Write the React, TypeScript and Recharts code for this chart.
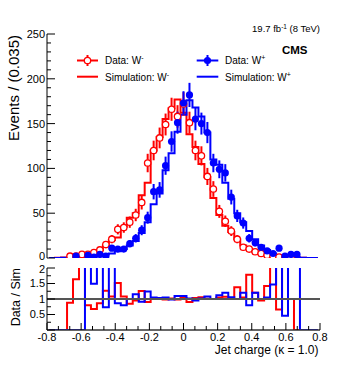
import React from "react";
import {
  ComposedChart,
  ErrorBar,
  Line,
  ReferenceLine,
  Scatter,
  XAxis,
  YAxis,
} from "recharts";

const FONT = "'Liberation Sans', Arial, Helvetica, sans-serif";

// 45 bins of width 0.035, centred on 0 (bin j = -22 .. 22)
const BIN_LO = -0.7875;
const BIN_W = 0.035;

const dataWm = [
  0, 0, 0, 2, 2, 4, 4, 6, 9, 15, 21, 32, 34, 40, 48, 62, 106, 120, 134, 149, 166, 158,
  172, 151, 120, 114, 91, 77, 52, 41, 30, 21, 12, 10, 7, 5, 3, 2, 1, 1, 1, 0, 0, 0, 0,
];
const simWm = [
  0, 0.2, 0.6, 1.5, 2, 2.5, 3.5, 5, 9, 14, 20, 23, 35, 45, 50, 70, 84, 120, 135, 155, 167,
  177, 162, 138, 124, 105, 90, 67, 48, 36, 29, 21, 14, 10, 7, 5, 3.5, 2.2, 1.3, 0.8, 0.6,
  0.4, 0.2, 0, 0,
];
const dataWp = [
  0, 0, 0, 0, 2, 0, 3, 1, 4, 2, 11, 10, 10, 16, 22, 31, 45, 74, 76, 103, 130, 151, 173,
  182, 155, 150, 140, 106, 99, 95, 68, 47, 39, 22, 17, 12, 8, 5, 11, 2, 4, 4, 0, 0, 0,
];
const simWp = [
  0, 0, 0.2, 0.3, 0.5, 0.8, 1.2, 1.8, 2.5, 4, 5, 7.5, 10, 14, 19, 28, 40, 60, 72, 98, 117,
  141, 160, 176, 168, 158, 140, 110, 104, 84, 66, 50, 40, 30, 21, 14, 9, 5, 3, 2, 1.2, 0.8,
  0.4, 0, 0,
];
const ratioWm = [
  0, 0, 0, 0.88, 1.64, 2.5, 0.8, 0.68, 0.86, 1.27, 1.08, 1.52, 1.08, 0.85, 0.95, 1.26, 0.9,
  1.0, 1.02, 0.98, 1.02, 0.98, 1.03, 0.9, 1.03, 1.06, 1.01, 1.0, 1.05, 1.07, 1.02, 1.38,
  1.05, 1.78, 1.2, 0.95, 1.42, 2.5, 0.66, 2.5, 1.0, 0, 0, 0, 0,
];
const ratioWp = [
  0, 0, 0, 0, 0, 0, 2.5, 1.49, 2.5, 0.73, 2.5, 0.86, 0.8, 1.0, 1.15, 0.91, 1.24, 1.05, 1.03,
  1.05, 0.98, 1.1, 1.1, 1.02, 0.95, 1.02, 1.08, 1.0, 1.12, 1.2, 1.06, 1.0, 1.2, 0.8, 1.2,
  1.0, 1.05, 1.47, 2.5, 0.46, 2.5, 2.5, 0, 0, 0,
];

const xMajor = [-0.8, -0.6, -0.4, -0.2, 0, 0.2, 0.4, 0.6, 0.8];
const yMainTicks = [
  0, 10, 20, 30, 40, 50, 60, 70, 80, 90, 100, 110, 120, 130, 140, 150, 160, 170, 180, 190,
  200, 210, 220, 230, 240, 250,
];
const yRatioTicks = [0, 0.25, 0.5, 0.75, 1, 1.25, 1.5, 1.75, 2];

const xTicks = xMajor.flatMap((v, i) =>
  i === 0 ? [v] : [v - (0.2 * 2) / 3, v - 0.2 / 3, v]
);

const RED = "#ff0000";
const BLUE = "#0000ff";

// histogram outline: left edge of each bin, plus closing right edge
const steps = (vals: number[]) => {
  const pts = vals.map((y, k) => ({ x: BIN_LO + BIN_W * k, y }));
  pts.push({ x: BIN_LO + BIN_W * vals.length, y: vals[vals.length - 1] });
  return pts;
};

const points = (vals: number[]) =>
  vals
    .map((y, k) => ({ x: BIN_LO + BIN_W * (k + 0.5), y, e: Math.sqrt(y) }))
    .filter((p) => p.y > 0);

const near = (v: number, step: number) =>
  Math.abs(v / step - Math.round(v / step)) < 1e-6;

type TickOpts = {
  side: "left" | "right" | "top" | "bottom";
  step: number;
  major: number;
  minor: number;
  label?: (v: number) => string | null;
  labelDy?: (v: number) => number;
  fontSize?: number;
};

const makeTick = (o: TickOpts) => (props: any) => {
  const { x, y, payload } = props;
  const v = payload.value as number;
  const big = near(v, o.step);
  const len = big ? o.major : o.minor;
  let x2 = x;
  let y2 = y;
  if (o.side === "left") x2 = x + len;
  if (o.side === "right") x2 = x - len;
  if (o.side === "top") y2 = y + len;
  if (o.side === "bottom") y2 = y - len;
  const txt = big && o.label ? o.label(v) : null;
  const dy = o.labelDy ? o.labelDy(v) : 3.9;
  return (
    <g>
      <line x1={x} y1={y} x2={x2} y2={y2} stroke="#000" strokeWidth={1} />
      {txt !== null && o.side === "left" && (
        <text x={x - 2} y={y + dy} textAnchor="end" fontSize={o.fontSize} fontFamily={FONT} fill="#000">
          {txt}
        </text>
      )}
      {txt !== null && o.side === "bottom" && (
        <text x={x} y={y + 10.7} textAnchor="middle" fontSize={o.fontSize} fontFamily={FONT} fill="#000">
          {txt}
        </text>
      )}
    </g>
  );
};

const fmtX = (v: number) => (Math.abs(v) < 1e-9 ? "0" : v.toFixed(1));
const fmtR = (v: number) => (v === 0 ? null : String(v));

const axisCommon = {
  interval: 0 as const,
  tickLine: false,
  tickSize: 0,
  tickMargin: 0,
  allowDataOverflow: true,
  type: "number" as const,
};

function MainPanel() {
  return (
    <ComposedChart width={357} height={264} margin={{ top: 34, right: 37, bottom: 6, left: 0 }}>
      <XAxis
        xAxisId="b"
        dataKey="x"
        domain={[-0.8, 0.8]}
        ticks={xTicks}
        height={0}
        axisLine={{ stroke: "#000" }}
        tick={makeTick({ side: "bottom", step: 0.2, major: 7, minor: 3.5 })}
        {...axisCommon}
      />
      <XAxis
        xAxisId="t"
        orientation="top"
        dataKey="x"
        domain={[-0.8, 0.8]}
        ticks={xTicks}
        height={0}
        axisLine={{ stroke: "#000" }}
        tick={makeTick({ side: "top", step: 0.2, major: 7, minor: 3.5 })}
        {...axisCommon}
      />
      <YAxis
        yAxisId="l"
        domain={[0, 250]}
        ticks={yMainTicks}
        width={47}
        axisLine={{ stroke: "#000" }}
        tick={makeTick({
          side: "left",
          step: 50,
          major: 8,
          minor: 4,
          label: (v) => String(v),
          labelDy: (v) => (v === 0 ? 2.2 : 3.9),
          fontSize: 11,
        })}
        {...axisCommon}
      />
      <YAxis
        yAxisId="r"
        orientation="right"
        domain={[0, 250]}
        ticks={yMainTicks}
        width={0}
        axisLine={{ stroke: "#000" }}
        tick={makeTick({ side: "right", step: 50, major: 8, minor: 4 })}
        {...axisCommon}
      />
      <Line
        xAxisId="b"
        yAxisId="l"
        data={steps(simWm)}
        dataKey="y"
        type="stepAfter"
        stroke={RED}
        strokeWidth={2}
        dot={false}
        isAnimationActive={false}
      />
      <Line
        xAxisId="b"
        yAxisId="l"
        data={steps(simWp)}
        dataKey="y"
        type="stepAfter"
        stroke={BLUE}
        strokeWidth={2}
        dot={false}
        isAnimationActive={false}
      />
      <Scatter
        xAxisId="b"
        yAxisId="l"
        data={points(dataWm)}
        dataKey="y"
        isAnimationActive={false}
        shape={(p: any) => (
          <circle cx={p.cx} cy={p.cy} r={3.2} fill="#fff" stroke={RED} strokeWidth={1.3} />
        )}
      >
        <ErrorBar dataKey="e" direction="y" width={0} stroke={RED} strokeWidth={2} isAnimationActive={false} />
      </Scatter>
      <Scatter
        xAxisId="b"
        yAxisId="l"
        data={points(dataWp)}
        dataKey="y"
        isAnimationActive={false}
        shape={(p: any) => <circle cx={p.cx} cy={p.cy} r={3.6} fill={BLUE} />}
      >
        <ErrorBar dataKey="e" direction="y" width={0} stroke={BLUE} strokeWidth={2} isAnimationActive={false} />
      </Scatter>
    </ComposedChart>
  );
}

function RatioPanel() {
  return (
    <ComposedChart width={357} height={114} margin={{ top: 6, right: 37, bottom: 0, left: 0 }}>
      <XAxis
        xAxisId="b"
        dataKey="x"
        domain={[-0.8, 0.8]}
        ticks={xTicks}
        height={46}
        axisLine={{ stroke: "#333", strokeWidth: 1.4 }}
        tick={makeTick({ side: "bottom", step: 0.2, major: 7, minor: 4, label: fmtX, fontSize: 11 })}
        {...axisCommon}
      />
      <XAxis
        xAxisId="t"
        orientation="top"
        dataKey="x"
        domain={[-0.8, 0.8]}
        ticks={xTicks}
        height={0}
        axisLine={{ stroke: "#333", strokeWidth: 1.4 }}
        tick={makeTick({ side: "top", step: 0.2, major: 7, minor: 4 })}
        {...axisCommon}
      />
      <YAxis
        yAxisId="l"
        domain={[0, 2]}
        ticks={yRatioTicks}
        width={47}
        axisLine={{ stroke: "#000" }}
        tick={makeTick({
          side: "left",
          step: 0.5,
          major: 8,
          minor: 4,
          label: fmtR,
          labelDy: (v) => (v === 2 ? 5.4 : 3.9),
          fontSize: 11,
        })}
        {...axisCommon}
      />
      <YAxis
        yAxisId="r"
        orientation="right"
        domain={[0, 2]}
        ticks={yRatioTicks}
        width={0}
        axisLine={{ stroke: "#000" }}
        tick={makeTick({ side: "right", step: 0.5, major: 8, minor: 4 })}
        {...axisCommon}
      />
      <Line
        xAxisId="b"
        yAxisId="l"
        data={steps(ratioWm)}
        dataKey="y"
        type="stepAfter"
        stroke={RED}
        strokeWidth={2}
        dot={false}
        isAnimationActive={false}
      />
      <Line
        xAxisId="b"
        yAxisId="l"
        data={steps(ratioWp)}
        dataKey="y"
        type="stepAfter"
        stroke={BLUE}
        strokeWidth={2}
        dot={false}
        isAnimationActive={false}
      />
      <ReferenceLine xAxisId="b" yAxisId="l" y={1} stroke="#555" strokeWidth={2} />
    </ComposedChart>
  );
}

function Overlay() {
  const t = { fontFamily: FONT, fill: "#000" };
  return (
    <svg
      width={357}
      height={376}
      style={{ position: "absolute", left: 0, top: 0, pointerEvents: "none" }}
    >
      <text {...t} fontSize={9.5} x={320} y={32} textAnchor="end">
        19.7 fb<tspan dy={-3.5} fontSize={6.5}>-1</tspan>
        <tspan dy={3.5}> (8 TeV)</tspan>
      </text>
      <text {...t} fontSize={11.5} fontWeight="bold" x={307.5} y={53.5} textAnchor="end">
        CMS
      </text>

      {/* legend: W- */}
      <line x1={77} x2={98} y1={60.5} y2={60.5} stroke={RED} strokeWidth={2} />
      <line x1={87.5} x2={87.5} y1={55} y2={66} stroke={RED} strokeWidth={2} />
      <circle cx={87.5} cy={60.5} r={3.2} fill="#fff" stroke={RED} strokeWidth={1.3} />
      <text {...t} fontSize={10} x={105} y={64.3}>
        Data: W<tspan dy={-4} fontSize={7}>-</tspan>
      </text>
      <line x1={77} x2={98} y1={76.7} y2={76.7} stroke={RED} strokeWidth={2} />
      <text {...t} fontSize={10} x={105} y={80.5}>
        Simulation: W<tspan dy={-4} fontSize={7}>-</tspan>
      </text>

      {/* legend: W+ */}
      <line x1={196.7} x2={218.3} y1={60.5} y2={60.5} stroke={BLUE} strokeWidth={2} />
      <line x1={207.5} x2={207.5} y1={55} y2={66} stroke={BLUE} strokeWidth={2} />
      <circle cx={207.5} cy={60.5} r={3.6} fill={BLUE} />
      <text {...t} fontSize={10} x={225} y={64.3}>
        Data: W<tspan dy={-4} fontSize={7}>+</tspan>
      </text>
      <line x1={196.7} x2={218.3} y1={76.7} y2={76.7} stroke={BLUE} strokeWidth={2} />
      <text {...t} fontSize={10} x={225} y={80.5}>
        Simulation: W<tspan dy={-4} fontSize={7}>+</tspan>
      </text>

      <text {...t} fontSize={15} textAnchor="end" transform="translate(19,35) rotate(-90)">
        Events / (0.035)
      </text>
      <text {...t} fontSize={12.5} textAnchor="end" transform="translate(19.5,268) rotate(-90)">
        Data / Sim
      </text>
      <text {...t} fontSize={12} textAnchor="end" x={318.5} y={354}>
        Jet charge (κ = 1.0)
      </text>
    </svg>
  );
}

export default function App() {
  return (
    <div
      style={{
        position: "absolute",
        left: 0,
        top: 0,
        width: 357,
        height: 376,
        background: "#fff",
        overflow: "hidden",
      }}
    >
      <div style={{ position: "absolute", left: 0, top: 0 }}>
        <MainPanel />
      </div>
      <div style={{ position: "absolute", left: 0, top: 262 }}>
        <RatioPanel />
      </div>
      <Overlay />
    </div>
  );
}
